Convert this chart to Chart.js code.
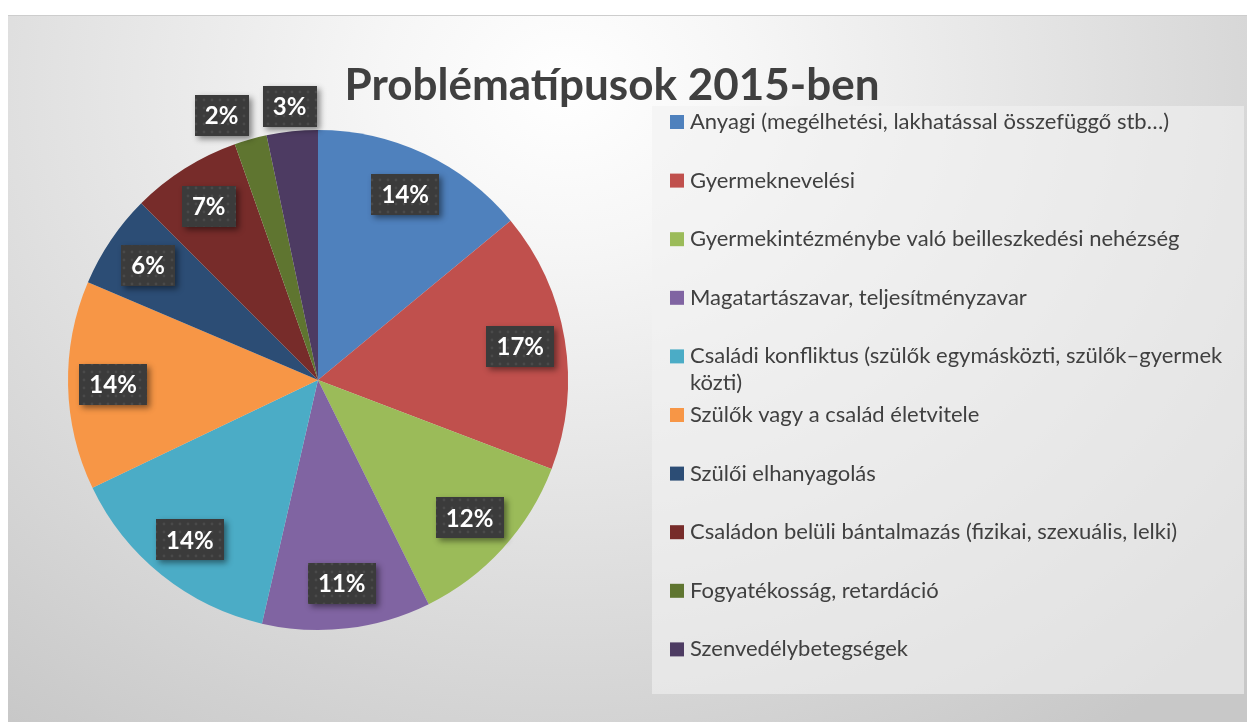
<!DOCTYPE html>
<html><head><meta charset="utf-8">
<script src="https://cdn.jsdelivr.net/npm/chart.js@4/dist/chart.umd.min.js"></script>
<style>
html,body{margin:0;padding:0;background:#fff;width:1247px;height:722px;overflow:hidden}
#frame{position:absolute;left:8px;top:15px;width:1239px;height:707px;
background:radial-gradient(ellipse 75% 112% at 45% 10%, #ffffff 0%, #f6f6f6 20%, #e2e2e2 55%, #c8c8c8 100%);
border-top:1px solid #cdcdcd;box-sizing:border-box}
#c{position:absolute;left:0;top:0}
</style></head><body>
<div id="frame"></div>
<canvas id="c" width="1247" height="722"></canvas>
<script>
const chartTitle = "Problématípusok 2015-ben";
const categories = [
  "Anyagi (megélhetési, lakhatással összefüggő stb…)",
  "Gyermeknevelési",
  "Gyermekintézménybe való beilleszkedési nehézség",
  "Magatartászavar, teljesítményzavar",
  "Családi konfliktus (szülők egymásközti, szülők–gyermek közti)",
  "Szülők vagy a család életvitele",
  "Szülői elhanyagolás",
  "Családon belüli bántalmazás (fizikai, szexuális, lelki)",
  "Fogyatékosság, retardáció",
  "Szenvedélybetegségek"
];
const shares = [14.0, 16.8, 11.9, 10.9, 14.3, 13.5, 6.1, 7.1, 2.1, 3.3];
const colors = ['#4f81bd','#c0504d','#9bbb59','#8064a2','#4bacc6','#f79646','#2c4d75','#772c2a','#5f7530','#4d3b62'];

const FONT = 'Lato, "Open Sans", sans-serif';

function makePattern(ctx){
  const t=document.createElement('canvas'); t.width=8; t.height=8;
  const g=t.getContext('2d');
  g.fillStyle='#3b3b3b'; g.fillRect(0,0,8,8);
  g.fillStyle='#4a4a4a'; g.beginPath(); g.arc(4,4,1.4,0,Math.PI*2); g.fill();
  return ctx.createPattern(t,'repeat');
}

const decorPlugin = {
  id:'decor',
  beforeDatasetsDraw(chart){
    const ctx=chart.ctx;
    ctx.save();
    ctx.fillStyle='#404040';
    ctx.font='bold 44px '+FONT;
    ctx.textAlign='center'; ctx.textBaseline='alphabetic';
    ctx.fillText(chartTitle, 612, 100);
    ctx.fillStyle='rgba(242,242,242,0.6)';
    ctx.fillRect(652,106,592,588);
    ctx.font='22px '+FONT;
    ctx.textAlign='left'; ctx.textBaseline='middle';
    const maxW=545;
    chart.data.labels.forEach((lab,i)=>{
      const cy=122+i*58.6;
      ctx.fillStyle=chart.data.datasets[0].backgroundColor[i];
      ctx.fillRect(670,cy-7,14,14);
      ctx.fillStyle='#404040';
      const words=lab.split(' '); let line=''; let y=cy;
      words.forEach(w=>{
        const test=line?line+' '+w:w;
        if(ctx.measureText(test).width>maxW && line){ ctx.fillText(line,690,y); line=w; y+=27; }
        else line=test;
      });
      ctx.fillText(line,690,y);
    });
    ctx.restore();
  },
  afterDatasetsDraw(chart){
    const ctx=chart.ctx; const meta=chart.getDatasetMeta(0);
    const vals=chart.data.datasets[0].data;
    const total=vals.reduce((a,b)=>a+b,0);
    ctx.save();
    ctx.font='bold 24px '+FONT;
    const boxes=[];
    meta.data.forEach((arc,i)=>{
      const p=arc.getProps(['x','y','startAngle','endAngle','outerRadius'],true);
      const mid=(p.startAngle+p.endAngle)/2;
      const pct=vals[i]/total*100;
      const outside=pct<4;
      const d=outside?p.outerRadius*1.1:p.outerRadius*0.82;
      const txt=Math.round(pct)+'%';
      const w=Math.round(ctx.measureText(txt).width)+20;
      boxes.push({cx:p.x+Math.cos(mid)*d, cy:p.y+Math.sin(mid)*d, w, h:41, txt, outside});
    });
    for(let i=boxes.length-2;i>=0;i--){
      const a=boxes[i], b=boxes[i+1];
      if(a.outside&&b.outside){
        const ov=(a.cx+a.w/2+14)-(b.cx-b.w/2);
        if(ov>0) a.cx-=ov;
      }
    }
    const pat=makePattern(ctx);
    boxes.forEach(b=>{
      const x=Math.round(b.cx-b.w/2), y=Math.round(b.cy-b.h/2);
      ctx.save();
      ctx.shadowColor='rgba(0,0,0,0.45)'; ctx.shadowBlur=6; ctx.shadowOffsetX=3; ctx.shadowOffsetY=3;
      ctx.fillStyle='#3b3b3b'; ctx.fillRect(x,y,b.w,b.h);
      ctx.restore();
      ctx.fillStyle=pat; ctx.fillRect(x,y,b.w,b.h);
      ctx.fillStyle='#ffffff'; ctx.textAlign='center'; ctx.textBaseline='middle';
      ctx.fillText(b.txt, b.cx, b.cy+1);
    });
    ctx.restore();
  }
};

new Chart(document.getElementById('c'), {
  type:'pie',
  data:{ labels:categories, datasets:[{ data:shares, backgroundColor:colors, borderWidth:0 }] },
  options:{
    responsive:false, animation:false, devicePixelRatio:1,
    layout:{ padding:{ left:68, right:679, top:130, bottom:92 } },
    plugins:{ legend:{display:false}, tooltip:{enabled:false}, title:{display:false} }
  },
  plugins:[decorPlugin]
});
</script>
</body></html>
